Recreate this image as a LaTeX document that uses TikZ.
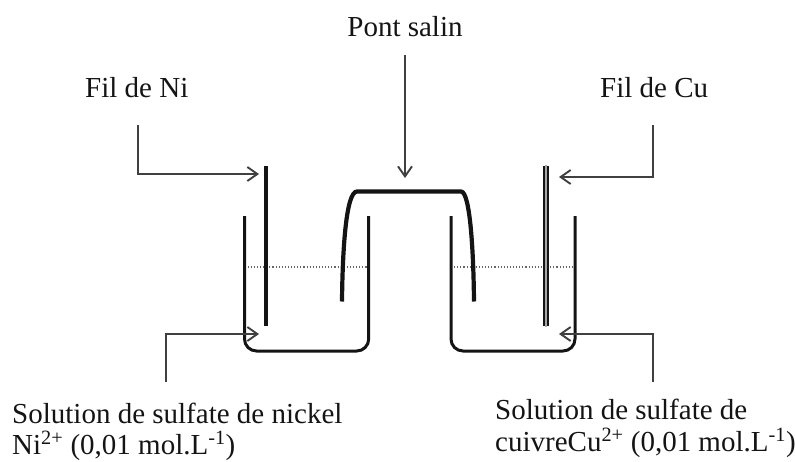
\documentclass[tikz,border=0pt]{standalone}
\usepackage{fontspec}
\setmainfont{Liberation Serif}
\usetikzlibrary{arrows.meta}
\definecolor{ink}{gray}{0.08}
\definecolor{lead}{gray}{0.25}
\tikzset{
  lab/.style={font=\fontsize{29}{33}\selectfont, text=ink, inner sep=0pt},
  callout/.style={draw=lead, line width=1.9pt, -{Straight Barb[length=10pt,width=14pt,line width=1.9pt]}},
  beaker/.style={draw=ink, line width=3pt, rounded corners=12pt},
  wire/.style={draw=ink, line width=3.2pt},
  bridge/.style={draw=ink, line width=4.2pt},
  level/.style={draw=gray!80!black, line width=1.1pt, dotted}
}
\begin{document}
\begin{tikzpicture}[x=1pt,y=-1pt]
\useasboundingbox (0,0) rectangle (795,461);
% labels
\node[lab,anchor=base] (pont) at (405,36) {Pont salin};
\node[lab,anchor=base west] (ni) at (85,97) {Fil de Ni};
\node[lab,anchor=base west] (cu) at (600,97) {Fil de Cu};
\node[lab,anchor=base west] (solnia) at (12,423) {Solution de sulfate de nickel};
\node[lab,anchor=base west] (solnib) at (12,454) {Ni\textsuperscript{2+} (0,01 mol.L\textsuperscript{-1})};
\node[lab,anchor=base west] (solcua) at (495,419) {Solution de sulfate de};
\node[lab,anchor=base west] (solcub) at (495,451) {cuivreCu\textsuperscript{2+} (0,01 mol.L\textsuperscript{-1})};
% anchors
\coordinate (b1tl) at (244.5,216); \coordinate (b1bl) at (244.5,351);
\coordinate (b1br) at (368.7,351); \coordinate (b1tr) at (368.7,216);
\coordinate (b2tl) at (451,216); \coordinate (b2bl) at (451,351);
\coordinate (b2br) at (575,351); \coordinate (b2tr) at (575,216);
\coordinate (niT) at (266,166); \coordinate (niB) at (266,326);
\coordinate (cuT) at (546,166); \coordinate (cuB) at (546,326);
\coordinate (brL) at (342,301.5); \coordinate (brR) at (474,301.5);
\coordinate (brTL) at (357,191.5); \coordinate (brTR) at (461,191.5);
\coordinate (pontTip) at (405,178); \coordinate (pontTail) at (405,55);
\coordinate (niStart) at (138,125); \coordinate (niTip) at (259,174);
\coordinate (cuStart) at (653,125); \coordinate (cuTip) at (559,177);
\coordinate (snStart) at (166,382); \coordinate (snTip) at (259,334);
\coordinate (scStart) at (653,382); \coordinate (scTip) at (559,334);
% level
\draw[level] (244.5,267) -- (368.7,267);
\draw[level] (451,267) -- (575,267);
% beakers
\draw[beaker] (b1tl) -- (b1bl) -- (b1br) -- (b1tr);
\draw[beaker] (b2tl) -- (b2bl) -- (b2br) -- (b2tr);
% electrodes
\draw[wire] (niT) -- (niB);
\draw[draw=ink, line width=5.4pt] (cuT) -- (cuB);
\draw[draw=gray!70, line width=2.6pt] ([yshift=1.4pt]cuT) -- ([yshift=-1.4pt]cuB);
% salt bridge
\draw[bridge, line cap=butt] (brL) .. controls (342.5,250) and (346,191.5) .. (brTL) -- (brTR) .. controls (470,191.5) and (473.5,250) .. (brR);
% callouts
\draw[callout] (pontTail) -- (pontTip);
\draw[callout] (niStart) |- (niTip);
\draw[callout] (cuStart) |- (cuTip);
\draw[callout] (snStart) |- (snTip);
\draw[callout] (scStart) |- (scTip);
\end{tikzpicture}
\end{document}
